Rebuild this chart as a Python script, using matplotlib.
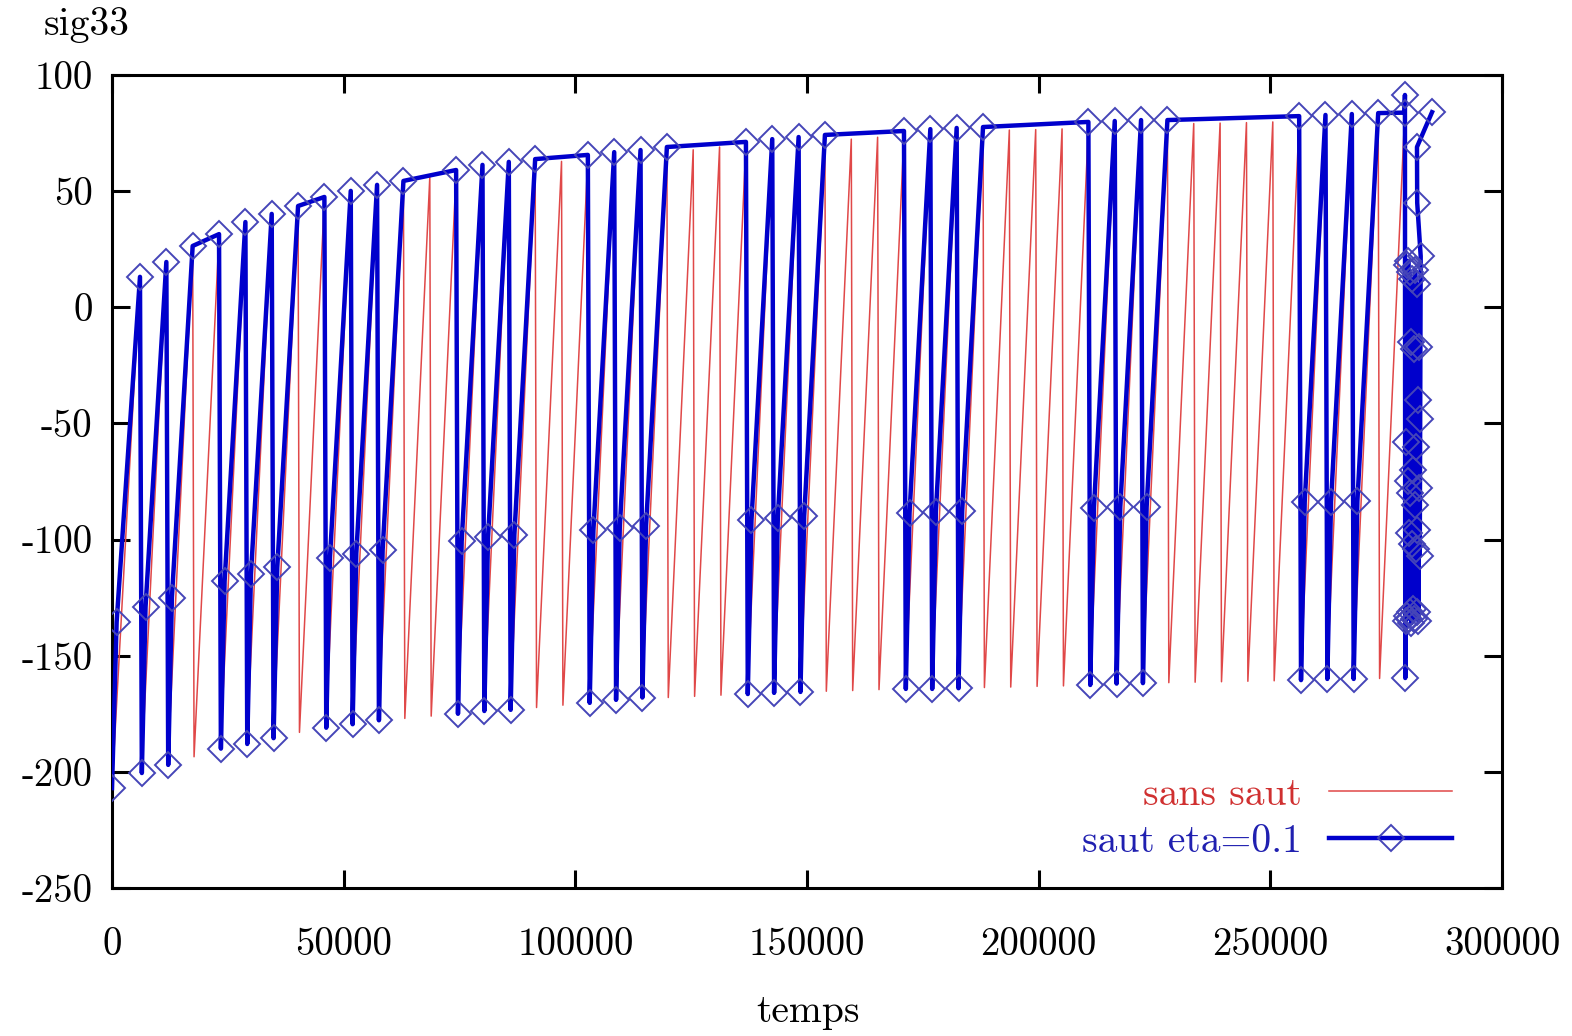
import matplotlib
matplotlib.use("Agg")
import matplotlib.pyplot as plt

plt.rcParams['font.family'] = ['cmr10', 'DejaVu Serif']
plt.rcParams['axes.unicode_minus'] = False
plt.rcParams['axes.formatter.use_mathtext'] = False

# ---- data: "sans saut" (no cycle jump) : sawtooth, max then quick drop to min
red_t = [0,
         6040, 6340, 11730, 12030, 17410, 17710, 23100, 23400, 28790, 29090,
         34470, 34770, 40160, 40460, 45840, 46140, 51530, 51830, 57210, 57510,
         62900, 63200, 68590, 68890, 74270, 74570, 79960, 80260, 85640, 85940,
         91330, 91630, 97020, 97320, 102700, 103000, 108390, 108690, 114070, 114370,
         119760, 120060, 125440, 125740, 131130, 131430, 136820, 137120, 142500, 142800,
         148190, 148490, 153870, 154170, 159560, 159860, 165240, 165540, 170930, 171230,
         176620, 176920, 182300, 182600, 187990, 188290, 193670, 193970, 199360, 199660,
         205050, 205350, 210730, 211030, 216420, 216720, 222100, 222400, 227790, 228090,
         233470, 233770, 239160, 239460, 244850, 245150, 250530, 250830, 256220, 256520,
         261900, 262200, 267590, 267890, 273280, 273580, 278960]
red_v = [-207,
         13.0, -200.5, 19.5, -197, 26.0, -193.5, 31.0, -190, 36.0, -188,
         40.0, -185.5, 43.5, -183, 47.0, -181, 50.0, -179.5, 52.5, -178,
         54.3, -177, 56.0, -176, 58.0, -175, 60.0, -174, 61.5, -173.3,
         62.5, -172.3, 62.8, -171.3, 64.8, -170.3, 65.8, -169.3, 66.8, -168.5,
         67.7, -168, 67.8, -167.5, 69.0, -167, 70.2, -166.5, 71.0, -166,
         71.8, -165.6, 72.3, -165.3, 72.4, -165, 73.2, -164.6, 74.4, -164.3,
         75.0, -164.1, 75.5, -164, 76.0, -163.7, 76.3, -163.5, 76.5, -163.2,
         76.8, -163, 77.6, -162.6, 78.0, -162.2, 78.4, -161.8, 78.8, -161.6,
         79.1, -161.4, 79.3, -161.2, 79.5, -161, 79.8, -160.8, 80.3, -160.5,
         80.6, -160.2, 80.9, -160, 81.2, -159.8, 81.5]

# ---- data: "saut eta=0.1" (with cycle jumps): min, mid, max per computed cycle
blue_t = [0, 1000, 6040,
          6440, 7240, 11730,
          12130, 12930, 17410, 23100,
          23500, 24300, 28790,
          29190, 29990, 34470,
          34870, 35670, 40160, 45840,
          46240, 47040, 51530,
          51930, 52730, 57210,
          57610, 58410, 62900, 74270,
          74670, 75470, 79960,
          80360, 81160, 85640,
          86040, 86840, 91330, 102700,
          103100, 103900, 108390,
          108790, 109590, 114070,
          114470, 115270, 119760, 136820,
          137220, 138020, 142500,
          142900, 143700, 148190,
          148590, 149390, 153870, 170930,
          171330, 172130, 176620,
          177020, 177820, 182300,
          182700, 183500, 187990, 210730,
          211130, 211930, 216420,
          216820, 217620, 222100,
          222500, 223300, 227790, 256220,
          256620, 257420, 261900,
          262300, 263100, 267590,
          267990, 268790, 273280, 278960,
          279050, 279120, 279250, 279350, 279450, 279550, 279650, 279750,
          279850, 279950, 280050, 280150, 280250, 280350, 280450, 280550,
          280650, 280750, 280850, 280950, 281050, 281150, 281250, 281350,
          281450, 281550, 281650, 281750, 281850, 281950, 282050, 282150,
          282250, 282350, 282450, 281700, 281650, 284900]
blue_v = [-207, -135.5, 13.1,
          -200.5, -129, 19.5,
          -197, -125, 26.4, 31.5,
          -190, -118, 36.7,
          -188, -115, 40.2,
          -185.5, -112, 43.6, 47.5,
          -181, -108, 50.1,
          -179.5, -106, 52.7,
          -177.8, -104.5, 54.4, 59.1,
          -175, -100.7, 61.3,
          -173.8, -99, 62.6,
          -173.3, -98, 63.8, 65.6,
          -170.3, -96, 66.8,
          -169, -95, 67.7,
          -168, -94, 69.0, 71.2,
          -166.5, -91.6, 72.4,
          -166, -90.7, 73.3,
          -165.6, -90, 74.2, 75.9,
          -164.3, -88.6, 76.7,
          -164.3, -88, 77.2,
          -164, -87.6, 77.6, 79.8,
          -162.6, -86.4, 80.2,
          -162, -86, 80.6,
          -161.8, -86, 80.6, 82.3,
          -160.5, -83.8, 82.8,
          -160, -83.8, 83.2,
          -160, -83.4, 83.6, 83.8,
          91.4, -159.6, -135, -58, 18, -133, -75, 20,
          -134, -97, 15, -131, -80, -15, -136, -102,
          12, -130, -70, -18, -134, -85, 16, -104,
          -60, 10, -131, -96, -40, -135, -78, -17,
          -107, -48, 22, 45, 69, 84]

x_ticks = [0, 50000, 100000, 150000, 200000, 250000, 300000]
y_ticks = [-250, -200, -150, -100, -50, 0, 50, 100]

fig = plt.figure(figsize=(15.72, 10.36), dpi=100)
ax = fig.add_axes([112/1572, 1-888/1036, 1390/1572, 813/1036])

ax.plot(red_t, red_v, color='#e04848', lw=1.1, label='sans saut', zorder=2)
ax.plot(blue_t, blue_v, color='#0000cc', lw=3.2, marker='D', ms=13.5,
        mfc='none', mec='#4545b8', mew=1.4, label='saut eta=0.1', zorder=3)

ax.set_xlim(0, 300000)
ax.set_ylim(-250, 100)
ax.set_xticks(x_ticks)
ax.set_xticklabels([str(v) for v in x_ticks])
ax.set_yticks(y_ticks)
ax.set_yticklabels([str(v) for v in y_ticks])
ax.tick_params(direction='in', length=13, width=2.2, top=True, right=True,
               labelsize=28, pad=14, colors='black')
ax.tick_params(axis='x', pad=28)
for s in ax.spines.values():
    s.set_linewidth(2.2)

fig.text(87/1572, 1-25/1036, 'sig33', fontsize=28.5, ha='center', va='center')
fig.text(808/1572, 1-1012/1036, 'temps', fontsize=28.5, ha='center', va='center')

leg = ax.legend(loc='lower right', bbox_to_anchor=((1452-112)/1390, (888-860)/813),
                markerfirst=False, frameon=False, fontsize=28.5, handlelength=3.1,
                handletextpad=0.7, labelspacing=0.29, borderaxespad=0, borderpad=0,
                numpoints=1, labelcolor=['#d03030', '#2020b0'])

fig.savefig('out.png', dpi=100)
